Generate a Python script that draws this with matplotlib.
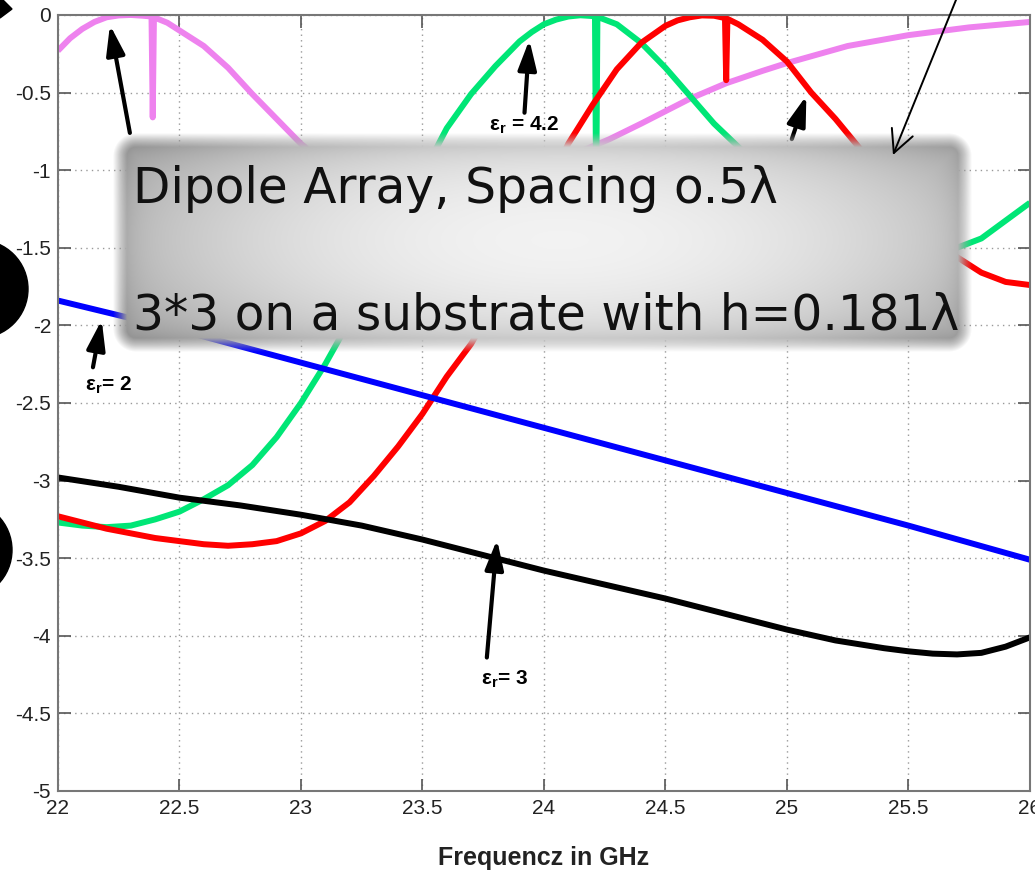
import matplotlib
matplotlib.use("Agg")
import matplotlib.pyplot as plt
import numpy as np
from matplotlib.patches import Circle, Polygon

plt.rcParams['axes.unicode_minus'] = False
plt.rcParams['font.family'] = ['Liberation Sans', 'DejaVu Sans']
plt.rcParams['mathtext.fontset'] = 'custom'
plt.rcParams['mathtext.rm'] = 'Liberation Sans'
plt.rcParams['mathtext.bf'] = 'Liberation Sans:bold'

# --- values (frequency in GHz, normalised gain in dB) ---
freq_pink = [22.0, 22.05, 22.1, 22.15, 22.2, 22.25, 22.3, 22.35, 22.385, 22.39, 22.395,
             22.45, 22.5, 22.55, 22.6, 22.7, 22.8, 22.9, 23.0, 23.2, 23.4, 23.6, 23.8,
             24.0, 24.15, 24.27, 24.4, 24.5, 24.6, 24.75, 24.9, 25.0, 25.25, 25.5, 25.75, 26.0]
gain_pink = [-0.23, -0.15, -0.09, -0.045, -0.015, -0.003, 0.0, -0.005, -0.01, -0.66, -0.015,
             -0.05, -0.1, -0.15, -0.2, -0.34, -0.51, -0.67, -0.83, -1.08, -1.25, -1.3, -1.2,
             -1.0, -0.88, -0.8, -0.7, -0.62, -0.54, -0.44, -0.36, -0.31, -0.2, -0.13, -0.08, -0.045]

freq_green = [22.0, 22.1, 22.2, 22.3, 22.4, 22.5, 22.6, 22.7, 22.8, 22.9, 23.0, 23.1,
              23.2, 23.3, 23.4, 23.5, 23.6, 23.7, 23.8, 23.9, 23.95, 24.0, 24.05, 24.1,
              24.15, 24.21, 24.215, 24.22, 24.25, 24.3, 24.4, 24.5, 24.6, 24.7, 24.8, 24.9,
              25.0, 25.2, 25.4, 25.6, 25.8, 26.0]
gain_green = [-3.27, -3.29, -3.30, -3.29, -3.25, -3.20, -3.12, -3.03, -2.90, -2.72, -2.50, -2.25,
              -1.97, -1.67, -1.36, -1.03, -0.73, -0.51, -0.33, -0.17, -0.11, -0.06, -0.03, -0.01,
              -0.002, -0.008, -1.2, -0.012, -0.03, -0.06, -0.18, -0.34, -0.52, -0.7, -0.85, -1.0,
              -1.15, -1.4, -1.56, -1.56, -1.44, -1.21]

freq_red = [22.0, 22.1, 22.2, 22.3, 22.4, 22.5, 22.6, 22.7, 22.8, 22.9, 23.0, 23.1, 23.2,
            23.3, 23.4, 23.5, 23.6, 23.7, 23.8, 23.9, 24.0, 24.1, 24.2, 24.3, 24.4, 24.5,
            24.55, 24.6, 24.65, 24.7, 24.745, 24.75, 24.755, 24.8, 24.85, 24.9, 24.95, 25.0,
            25.1, 25.2, 25.3, 25.4, 25.5, 25.6, 25.7, 25.8, 25.9, 26.0]
gain_red = [-3.23, -3.27, -3.31, -3.34, -3.37, -3.39, -3.41, -3.42, -3.41, -3.39, -3.34, -3.26, -3.14,
            -2.97, -2.78, -2.57, -2.33, -2.12, -1.85, -1.5, -1.15, -0.83, -0.58, -0.35, -0.18, -0.07,
            -0.035, -0.015, -0.003, -0.005, -0.02, -0.42, -0.025, -0.06, -0.11, -0.16, -0.23, -0.3,
            -0.5, -0.67, -0.86, -1.05, -1.25, -1.42, -1.56, -1.66, -1.72, -1.74]

freq_blue = [22.0, 22.5, 23.0, 23.5, 24.0, 24.5, 25.0, 25.5, 26.0]
gain_blue = [-1.84, -2.03, -2.24, -2.45, -2.66, -2.87, -3.08, -3.29, -3.51]

freq_black = [22.0, 22.25, 22.5, 22.75, 23.0, 23.25, 23.5, 23.75, 24.0, 24.25, 24.5, 24.75,
              25.0, 25.2, 25.4, 25.5, 25.6, 25.7, 25.8, 25.9, 26.0]
gain_black = [-2.98, -3.04, -3.11, -3.16, -3.22, -3.29, -3.38, -3.48, -3.58, -3.67, -3.76, -3.86,
              -3.96, -4.03, -4.08, -4.10, -4.115, -4.12, -4.11, -4.07, -4.01]

xticks = [22, 22.5, 23, 23.5, 24, 24.5, 25, 25.5, 26]
xtick_labels = ["22", "22.5", "23", "23.5", "24", "24.5", "25", "25.5", "26"]
yticks = [0, -0.5, -1, -1.5, -2, -2.5, -3, -3.5, -4, -4.5, -5]
ytick_labels = ["0", "-0.5", "-1", "-1.5", "-2", "-2.5", "-3", "-3.5", "-4", "-4.5", "-5"]

box_line1 = "Dipole Array, Spacing o.5λ"
box_line2 = "3*3 on a substrate with h=0.181λ"

fig = plt.figure(figsize=(10.35, 8.75), dpi=100)
ax = fig.add_axes([0.0560, 0.0960, 0.9391, 0.8869])

lw = 4.3
kw = dict(lw=lw, solid_joinstyle='round', solid_capstyle='butt', zorder=2)
ax.plot(freq_pink, gain_pink, color='#ee82ee', **kw)
ax.plot(freq_green, gain_green, color='#00e676', **kw)
ax.plot(freq_red, gain_red, color='#ff0000', **kw)
ax.plot(freq_blue, gain_blue, color='#0000ff', **kw)
ax.plot(freq_black, gain_black, color='#000000', **kw)

ax.set_xlim(22, 26)
ax.set_ylim(-5, 0)
ax.set_xticks(xticks)
ax.set_xticklabels(xtick_labels)
ax.set_yticks(yticks)
ax.set_yticklabels(ytick_labels)
ax.tick_params(direction='in', length=9, width=1.2, colors='#555555', labelcolor='#222222',
               labelsize=15, top=True, right=True)
ax.tick_params(axis='x', pad=6)
ax.tick_params(axis='y', pad=5)
ax.grid(True, linestyle=(0, (1, 3)), color='#999999', lw=1.0)
for s in ax.spines.values():
    s.set_color('#777777')
    s.set_linewidth(1.5)
ax.set_xlabel("Frequencz in GHz", fontsize=18, fontweight='bold', color='#222222', labelpad=20)

# arrows and labels of the curves
arrow = dict(arrowstyle='-|>,head_length=0.9,head_width=0.28', color='black', lw=3,
             mutation_scale=20, shrinkA=0, shrinkB=0)
lab = dict(fontsize=15, fontweight='bold', va='top', zorder=3)
ax.annotate('', xy=(22.214, -0.064), xytext=(22.296, -0.76), arrowprops=arrow, zorder=3)
ax.annotate('', xy=(23.94, -0.16), xytext=(23.92, -0.63), arrowprops=arrow, zorder=3)
ax.text(23.92, -0.64, r'$\mathbf{ε_r}$ = 4.2', ha='center', **lab)
ax.annotate('', xy=(25.08, -0.52), xytext=(25.02, -0.80), arrowprops=arrow, zorder=3)
ax.annotate('', xy=(22.18, -1.965), xytext=(22.144, -2.27), arrowprops=arrow, zorder=3)
ax.text(22.11, -2.32, r'$\mathbf{ε_r}$= 2', ha='left', **lab)
ax.annotate('', xy=(23.807, -3.38), xytext=(23.765, -4.14), arrowprops=arrow, zorder=3)
ax.text(23.74, -4.21, r'$\mathbf{ε_r}$= 3', ha='left', **lab)

# slide decorations on the left edge (pixel coordinates, y from the top)
H = 875
tri = Polygon([(0, 0), (0.03, 0), (0.12, -0.09), (0, -0.18)], closed=True, color='black',
              transform=fig.dpi_scale_trans + matplotlib.transforms.Affine2D().translate(0, H))
fig.add_artist(tri)
fig.add_artist(Circle((-0.21, (H - 289) / 100), 0.49, color='black', transform=fig.dpi_scale_trans))
fig.add_artist(Circle((-0.37, (H - 550) / 100), 0.49, color='black', transform=fig.dpi_scale_trans))

# grey text box of the slide, with soft edges
bx0, bx1, by0, by1 = 100, 990, 120, 365
axb = fig.add_axes([bx0 / 1035, 1 - by1 / H, (bx1 - bx0) / 1035, (by1 - by0) / H], zorder=5)
axb.set_xlim(bx0, bx1)
axb.set_ylim(by1, by0)
axb.axis('off')
px, py = np.meshgrid(np.arange(bx0, bx1) + 0.5, np.arange(by0, by1) + 0.5)
x0, x1, y0, y1, r = 120, 965, 140, 345, 16
cx, cy, hw, hh = (x0 + x1) / 2, (y0 + y1) / 2, (x1 - x0) / 2, (y1 - y0) / 2
qx = np.abs(px - cx) - (hw - r)
qy = np.abs(py - cy) - (hh - r)
d = np.hypot(np.maximum(qx, 0), np.maximum(qy, 0)) + np.minimum(np.maximum(qx, qy), 0) - r
alpha = np.clip((7 - d) / 14, 0, 1)
t = ((px - 560) / 480) ** 2 + ((py - 240) / 160) ** 2
g = np.clip(0.95 - 0.27 * t, 0.64, 0.95)
g = g - 0.10 * np.exp(-np.clip(-d, 0, None) / 12)
img = np.dstack([g, g, g, alpha])
axb.imshow(img, extent=(bx0, bx1, by1, by0), aspect='auto', interpolation='bilinear')
txt_kw = dict(fontsize=35, family=['DejaVu Sans'], color='#111111', va='baseline', ha='left')
axb.text(133, 203, box_line1, **txt_kw)
axb.text(133, 330, box_line2, **txt_kw)
axb.annotate('', xy=(893, 155), xytext=(958, -5), annotation_clip=False,
             arrowprops=dict(arrowstyle='->,head_length=0.9,head_width=0.45', color='black',
                             lw=1.4, mutation_scale=18, shrinkA=0, shrinkB=0))

fig.savefig("out.png", dpi=100)
